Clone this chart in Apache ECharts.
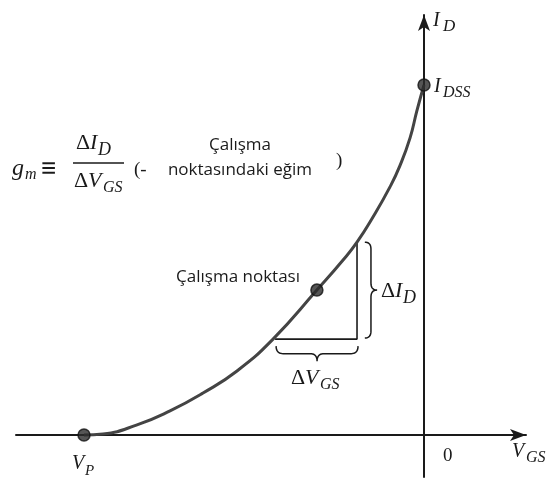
<!DOCTYPE html>
<html><head><meta charset="utf-8">
<script src="https://cdn.jsdelivr.net/npm/echarts@6/dist/echarts.min.js"></script>
<style>html,body{margin:0;padding:0;background:#fff}#c{width:549px;height:481px}</style>
</head><body><div id="c"></div>
<script>
// JFET transfer characteristic: V_GS (in units of |V_P|) vs I_D (in units of I_DSS)
const curveVgs = [-1, -0.944, -0.844, -0.747, -0.650, -0.550, -0.444, -0.315, -0.238, -0.197, -0.150, -0.100, -0.071, -0.041, -0.021, 0];
const curveId  = [0, 0.003, 0.029, 0.069, 0.120, 0.183, 0.274, 0.414, 0.500, 0.551, 0.623, 0.709, 0.769, 0.849, 0.926, 1];
// marked points: V_P, operating point, I_DSS
const pointNames = ['V_P', 'Çalışma noktası', 'I_DSS'];
const pointVgs = [-1, -0.315, 0];
const pointId  = [0, 0.414, 1];
// slope triangle (ΔV_GS horizontal leg, ΔI_D vertical leg)
const triVgs = [-0.438, -0.197, -0.197];
const triId  = [0.274, 0.274, 0.551];
// braces: [startVgs, startId, endVgs, endId, tipVgs, tipId]
const braceDeltaId  = [-0.174, 0.551, -0.174, 0.277, -0.138, 0.414];
const braceDeltaVgs = [-0.435, 0.254, -0.194, 0.254, -0.315, 0.211];
// axis extents
const vgsMin = -1.2, vgsMax = 0.3, idMin = -0.12, idMax = 1.2;

const serif = "'Liberation Serif','DejaVu Serif',serif";
const sans = "'Open Sans','Noto Sans',sans-serif";
const ink = '#1a1a1a';

function zip(a, b) { return a.map((v, i) => [v, b[i]]); }

function bracePoints(A, B, T) {
  const dx = B[0] - A[0], dy = B[1] - A[1];
  const L = Math.hypot(dx, dy);
  const ux = dx / L, uy = dy / L;
  let nx = -uy, ny = ux;
  const mx = (A[0] + B[0]) / 2, my = (A[1] + B[1]) / 2;
  let d = (T[0] - mx) * nx + (T[1] - my) * ny;
  if (d < 0) { nx = -nx; ny = -ny; d = -d; }
  const h = d * 0.5, q = Math.min(L * 0.1, 7);
  const segs = [
    [[0, 0], [0, h], [q, h]],
    [[q, h], [L / 2 - q, h], null],
    [[L / 2 - q, h], [L / 2, h], [L / 2, d]],
    [[L / 2, d], [L / 2, h], [L / 2 + q, h]],
    [[L / 2 + q, h], [L - q, h], null],
    [[L - q, h], [L, h], [L, 0]]
  ];
  const local = [];
  segs.forEach(s => {
    if (!s[2]) { local.push(s[0], s[1]); return; }
    for (let i = 0; i <= 10; i++) {
      const t = i / 10, a = (1 - t) * (1 - t), b = 2 * t * (1 - t), c = t * t;
      local.push([a * s[0][0] + b * s[1][0] + c * s[2][0], a * s[0][1] + b * s[1][1] + c * s[2][1]]);
    }
  });
  return local.map(p => [A[0] + ux * p[0] + nx * p[1], A[1] + uy * p[0] + ny * p[1]]);
}

function txt(text, x, y, font, align) {
  return {
    type: 'text', x: x, y: y, silent: true,
    style: { text: text, font: font, fill: ink, align: align || 'left', verticalAlign: 'middle' }
  };
}

const chart = echarts.init(document.getElementById('c'), null, { renderer: 'canvas' });
const it = s => 'italic ' + s + 'px ' + serif;
const rm = s => s + 'px ' + serif;

const graphics = [
  // axis labels
  txt('I', 433, 21, it(20)), txt('D', 443, 27, it(17)),
  txt('I', 434, 87, it(20)), txt('DSS', 443, 93, it(16)),
  txt('V', 72, 464, it(20)), txt('P', 85, 471, it(15)),
  txt('0', 443, 456, rm(19)),
  txt('V', 512, 452, it(20)), txt('GS', 526, 458, it(16)),
  // delta labels
  txt('Δ', 291, 378, rm(22)), txt('V', 305, 378, it(22)), txt('GS', 320, 385, it(16)),
  txt('Δ', 381, 291, rm(22)), txt('I', 395, 291, it(22)), txt('D', 403, 298, it(18)),
  // formula
  txt('g', 12, 169, it(24)), txt('m', 25, 175, it(16)),
  txt('≡', 41, 170, 'bold 27px ' + serif),
  txt('Δ', 76, 143, rm(22)), txt('I', 90, 143, it(22)), txt('D', 98, 150, it(18)),
  { type: 'line', silent: true, shape: { x1: 73, y1: 163, x2: 124, y2: 163 }, style: { stroke: ink, lineWidth: 1.4 } },
  txt('Δ', 74, 181, rm(22)), txt('V', 88, 181, it(22)), txt('GS', 103, 188, it(16)),
  txt('(-', 134, 170, rm(19)),
  txt('Çalışma', 240, 145, '17px ' + sans, 'center'),
  txt('noktasındaki eğim', 240, 170, '17px ' + sans, 'center'),
  txt(')', 336, 161, rm(19)),
  txt('Çalışma noktası', 300, 277, '17px ' + sans, 'right')
];

const option = {
  animation: false,
  backgroundColor: '#fff',
  grid: { left: 16, top: 15, width: 510, height: 462 },
  xAxis: {
    type: 'value', min: vgsMin, max: vgsMax,
    axisLine: { onZero: true, symbol: ['none', 'arrow'], symbolSize: [9, 16], lineStyle: { color: ink, width: 2 } },
    axisTick: { show: false }, axisLabel: { show: false }, splitLine: { show: false }
  },
  yAxis: {
    type: 'value', min: idMin, max: idMax,
    axisLine: { onZero: true, symbol: ['none', 'arrow'], symbolSize: [9, 16], lineStyle: { color: ink, width: 2 } },
    axisTick: { show: false }, axisLabel: { show: false }, splitLine: { show: false }
  },
  series: [
    {
      type: 'line', data: zip(curveVgs, curveId), smooth: 0.5, showSymbol: false,
      lineStyle: { color: '#444', width: 3 }, z: 3
    },
    {
      type: 'line', data: zip(triVgs, triId), showSymbol: false,
      lineStyle: { color: ink, width: 1.6 }, z: 2
    },
    {
      type: 'custom', z: 2,
      data: [braceDeltaId, braceDeltaVgs],
      renderItem: function (params, api) {
        const A = api.coord([api.value(0), api.value(1)]);
        const B = api.coord([api.value(2), api.value(3)]);
        const T = api.coord([api.value(4), api.value(5)]);
        return { type: 'polyline', shape: { points: bracePoints(A, B, T) }, style: { stroke: ink, lineWidth: 1.5, fill: 'none' } };
      }
    },
    {
      type: 'scatter', data: pointNames.map((n, i) => ({ name: n, value: [pointVgs[i], pointId[i]] })),
      symbolSize: 12, itemStyle: { color: '#2b2b2b', borderColor: '#111', borderWidth: 1.5 }, z: 5
    }
  ],
  graphic: graphics
};
chart.setOption(option);
</script>
</body></html>
